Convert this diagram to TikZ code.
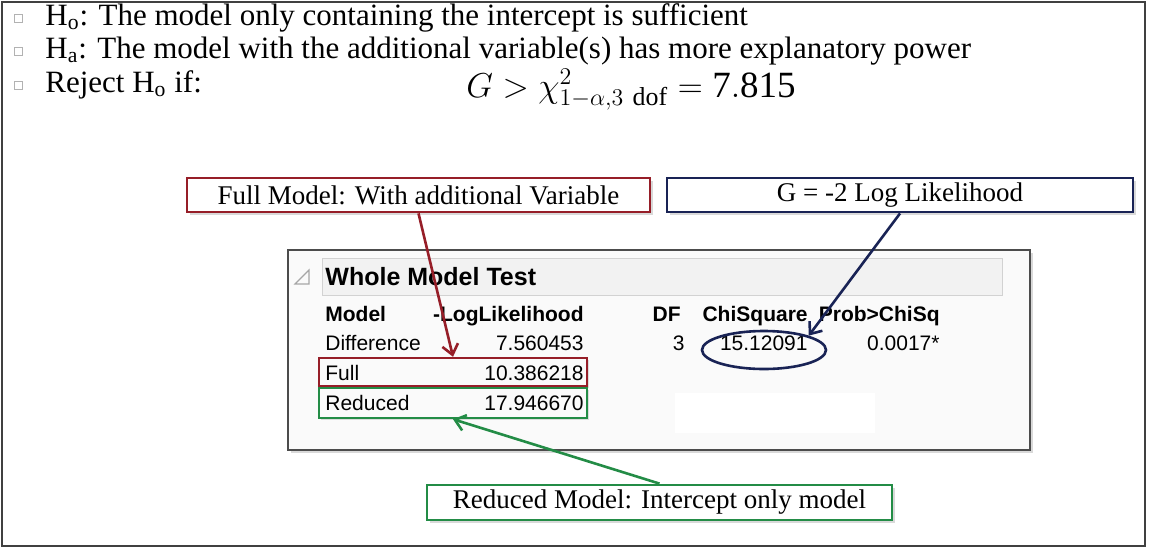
\documentclass[tikz,border=0pt]{standalone}
\usepackage{fontspec}
\setmainfont{Liberation Serif}
\newfontfamily\jmpfont{Liberation Sans}
\usetikzlibrary{shapes.geometric,arrows.meta,shadows}

\definecolor{fullred}{RGB}{150,30,40}
\definecolor{gnavy}{RGB}{25,35,85}
\definecolor{redgreen}{RGB}{35,140,70}

\begin{document}
\begin{tikzpicture}[x=0.5pt,y=-0.5pt,
  note/.style={draw,line width=1.4pt,fill=white,inner sep=0pt,minimum height=17pt,
    font=\fontsize{13.5}{16}\selectfont,
    drop shadow={opacity=0.3,shadow xshift=1.5pt,shadow yshift=-1.5pt}},
  rowbox/.style={draw,line width=1.2pt,fill=gray!4,inner sep=0pt,minimum width=134pt,
    drop shadow={opacity=0.25,shadow xshift=1pt,shadow yshift=-1pt}},
  bullet/.style={draw=gray!60,line width=0.5pt,minimum size=4pt,inner sep=0pt},
  line/.style={anchor=west,inner sep=0pt,font=\fontsize{15.5}{18}\selectfont},
  jmp/.style={font=\jmpfont\fontsize{10.5}{12}\selectfont,inner sep=0pt},
  jmphead/.style={font=\jmpfont\bfseries\fontsize{10.5}{12}\selectfont,inner sep=0pt},
  pointer/.style={line width=1.3pt,-{Straight Barb[length=5pt,width=8pt]}}]

\useasboundingbox (0,0) rectangle (1153,548);

% Frame
\draw[line width=1.4pt,black!75] (2,2) rectangle (1145,546);

% Hypotheses
\node[bullet] (b1) at (18,18) {};
\node[bullet] (b2) at (18,51) {};
\node[bullet] (b3) at (18,85) {};
\node[line] (h0) at (45,18) {H\textsubscript{o}: The model only containing the intercept is sufficient};
\node[line] (ha) at (45,51) {H\textsubscript{a}: The model with the additional variable(s) has more explanatory power};
\node[line] (rej) at (45,85) {Reject H\textsubscript{o} if:};
\node[inner sep=0pt,anchor=base,font=\fontsize{18.5}{21}\selectfont] (crit) at (631,97)
  {$G > \chi^2_{1-\alpha,3\ \mathrm{dof}} = \mathrm{7.815}$};

% JMP output
\draw[black!70,line width=0.8pt,fill=gray!4,
  drop shadow={opacity=0.3,shadow xshift=1.5pt,shadow yshift=-1.5pt}] (288,250) rectangle (1030,450);
\draw[gray!35,fill=gray!10] (322,258) rectangle (1002,295);
\draw[gray!70,line width=0.6pt] (295,284) -- (309,284) -- (309,270) -- cycle;
\node[font=\jmpfont\bfseries\fontsize{12.5}{14}\selectfont,anchor=base west,inner sep=0pt] (title) at (325,285) {Whole Model Test};
\fill[white] (675,393) rectangle (875,433);

% Column heads
\node[jmphead,anchor=base west] (cmodel) at (325,321) {Model};
\node[jmphead,anchor=base east] (cll) at (584,321) {-LogLikelihood};
\node[jmphead,anchor=base east] (cdf) at (681,321) {DF};
\node[jmphead,anchor=base east] (cchi) at (808,321) {ChiSquare};
\node[jmphead,anchor=base east] (cprob) at (940,321) {Prob>ChiSq};

% Rows
\node[rowbox,draw=fullred,minimum height=14pt] (fullrow) at (453,372) {};
\node[rowbox,draw=redgreen,minimum height=15pt] (redrow) at (453,403) {};
\node[jmp,anchor=base west] (mdiff) at (325,350) {Difference};
\node[jmp,anchor=base east] (lldiff) at (584,350) {7.560453};
\node[jmp,anchor=base east] (df) at (685,350) {3};
\node[jmp,anchor=base east] (chi) at (808,350) {15.12091};
\node[jmp,anchor=base east] (prob) at (940,350) {0.0017*};
\node[jmp,anchor=base west] (mfull) at (325,380) {Full};
\node[jmp,anchor=base east] (llfull) at (584,380) {10.386218};
\node[jmp,anchor=base west] (mred) at (325,410) {Reduced};
\node[jmp,anchor=base east] (llred) at (584,410) {17.946670};
\node[ellipse,draw=gnavy,line width=1.3pt,minimum width=62pt,minimum height=19pt] (chisq) at (764,350) {};

% Notes
\node[note,draw=fullred,minimum width=231.5pt] (fullnote) at (418.5,195) {Full Model: With additional Variable};
\node[note,draw=gnavy,minimum width=233pt] (gnote) at (900,195) {G = -2 Log Likelihood};
\node[note,draw=redgreen,minimum width=232.5pt,minimum height=17.5pt] (rednote) at (659.5,502.5) {Reduced Model: Intercept only model};

% Pointers
\draw[pointer,fullred] (fullnote.south) -- (fullrow.north);
\draw[pointer,gnavy] (gnote.south) -- (chisq.north east);
\draw[pointer,redgreen] (rednote.north) -- (redrow.south);

\end{tikzpicture}
\end{document}
